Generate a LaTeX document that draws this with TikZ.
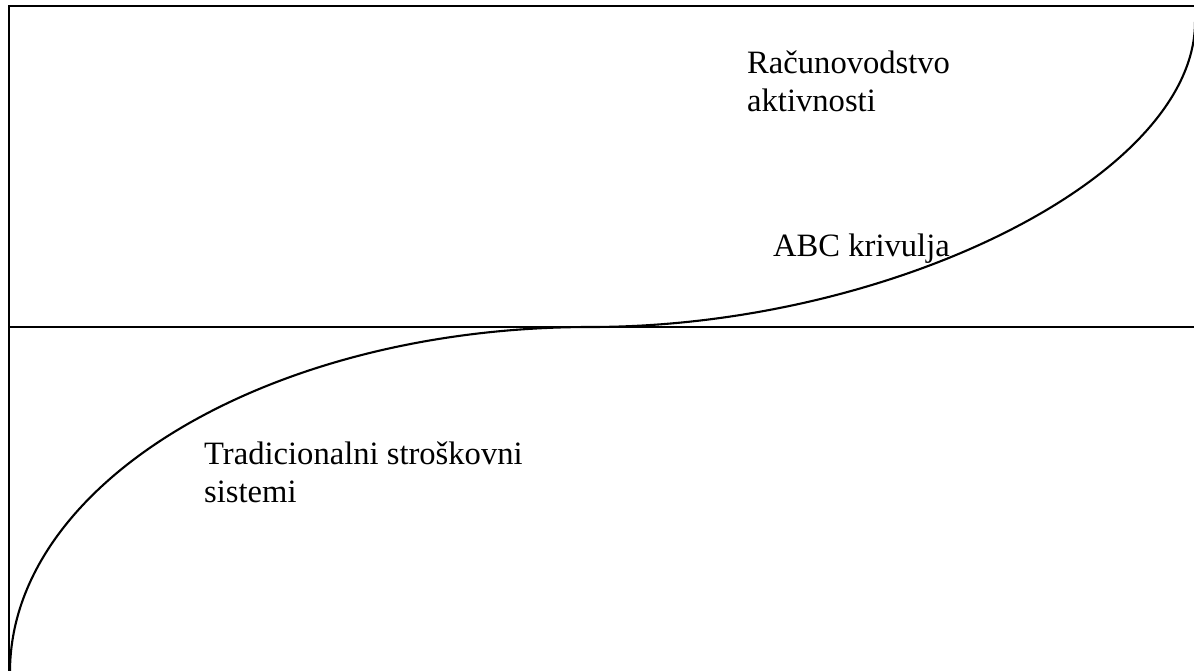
\documentclass[tikz,border=0pt]{standalone}
\usepackage{fontspec}
\setmainfont{Liberation Serif}
\begin{document}
\begin{tikzpicture}[x=1pt,y=-1pt,
  frameline/.style={line width=2.4pt, black},
  curveline/.style={line width=2.1pt, black},
  lbl/.style={inner sep=0pt, anchor=base west, align=left,
    font=\fontsize{32.6}{38}\selectfont}]
  \useasboundingbox (0,0) rectangle (1194,670);
  \clip (0,0) rectangle (1194,670);

  % frame and middle axis
  \coordinate (tl) at (9,6);
  \coordinate (tr) at (1200,6);
  \coordinate (bl) at (9,676);
  \coordinate (ml) at (9,327);
  \coordinate (mr) at (1200,327);
  \draw[frameline] (bl) -- (tl) -- (tr);
  \draw[frameline] (ml) -- (mr);

  % S-shaped curve
  \coordinate (start) at (10,672);
  \coordinate (mid) at (590,327);
  \coordinate (end) at (1195,22);
  \draw[curveline] (start) .. controls (10,482) and (271,327) .. (mid)
                          .. controls (892,327) and (1195,176) .. (end);

  % labels (anchored at the baseline of the last line)
  \node[lbl] (act) at (747,111) {Računovodstvo\\aktivnosti};
  \node[lbl] (abc) at (773,256) {ABC krivulja};
  \node[lbl] (trad) at (204,502) {Tradicionalni stroškovni\\sistemi};
\end{tikzpicture}
\end{document}
